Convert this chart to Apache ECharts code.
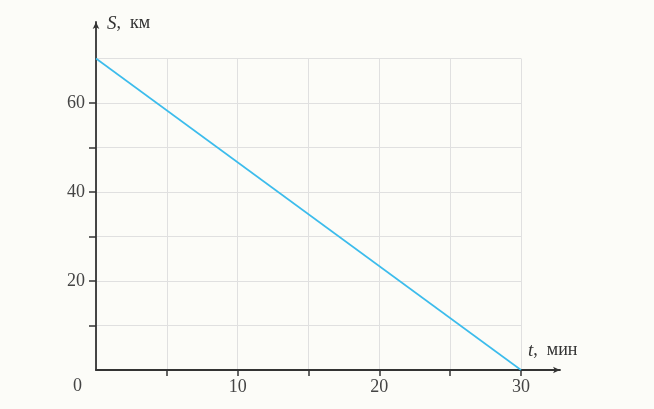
<!DOCTYPE html>
<html><head><meta charset="utf-8">
<script src="https://cdn.jsdelivr.net/npm/echarts@6/dist/echarts.min.js"></script>
<style>html,body{margin:0;padding:0;background:#fcfcf8}#c{width:654px;height:409px}</style>
</head><body><div id="c"></div>
<script>
const timeMin = [0, 30];
const distanceKm = [70, 0];
const xTickLabels = [10, 20, 30];
const yTickLabels = [20, 40, 60];
const xTicks = [5, 10, 15, 20, 25, 30];
const yTicks = [10, 20, 30, 40, 50, 60];

const serif = '"Liberation Serif", "DejaVu Serif", serif';
const chart = echarts.init(document.getElementById('c'));
const hidden = {axisLine: {show: false}, axisTick: {show: false}, axisLabel: {show: false}};
chart.setOption({
  backgroundColor: '#fcfcf8',
  animation: false,
  grid: [
    {left: 96, right: 133, top: 58.5, bottom: 39},
    {left: 96, right: 94, top: 22, bottom: 39}
  ],
  xAxis: [
    {type: 'value', gridIndex: 0, min: 0, max: 30, interval: 5,
     axisLine: {show: false},
     axisTick: {show: true, length: 6, customValues: xTicks, lineStyle: {color: '#333', width: 1.5}},
     splitLine: {show: false},
     axisLabel: {margin: 8, fontFamily: serif, fontSize: 18, color: '#444', customValues: xTickLabels}},
    {type: 'value', gridIndex: 1, min: 0, max: 1,
     axisLine: {show: true, symbol: ['none', 'arrow'], symbolSize: [5, 7], lineStyle: {color: '#333', width: 1.8}},
     axisTick: {show: false}, splitLine: {show: false}, axisLabel: {show: false}},
    Object.assign({type: 'value', gridIndex: 0, min: 0, max: 30, interval: 5,
     splitLine: {show: true, lineStyle: {color: '#e0e0e0', width: 1}}}, hidden)
  ],
  yAxis: [
    {type: 'value', gridIndex: 0, min: 0, max: 70, interval: 10,
     axisLine: {show: false},
     axisTick: {show: true, length: 7, customValues: yTicks, lineStyle: {color: '#333', width: 1.5}},
     splitLine: {show: false},
     axisLabel: {margin: 11, fontFamily: serif, fontSize: 18, color: '#444', customValues: yTickLabels}},
    {type: 'value', gridIndex: 1, min: 0, max: 1,
     axisLine: {show: true, symbol: ['none', 'arrow'], symbolSize: [5, 7], lineStyle: {color: '#333', width: 1.8}},
     axisTick: {show: false}, splitLine: {show: false}, axisLabel: {show: false}},
    Object.assign({type: 'value', gridIndex: 0, min: 0, max: 70, interval: 10,
     splitLine: {show: true, lineStyle: {color: '#e0e0e0', width: 1}}}, hidden)
  ],
  graphic: [
    {type: 'text', left: 107, top: 14, style: {rich: {i: {fontFamily: serif, fontStyle: 'italic', fontSize: 19, fill: '#333'}, n: {fontFamily: serif, fontSize: 18, fill: '#333'}}, text: '{i|S}{n|,  км}'}},
    {type: 'text', left: 528, top: 341, style: {rich: {i: {fontFamily: serif, fontStyle: 'italic', fontSize: 19, fill: '#333'}, n: {fontFamily: serif, fontSize: 18, fill: '#333'}}, text: '{i|t}{n|,  мин}'}},
    {type: 'text', left: 73, top: 377, style: {text: '0', fontFamily: serif, fontSize: 18, fill: '#444'}}
  ],
  series: [{
    type: 'line', xAxisIndex: 0, yAxisIndex: 0,
    data: timeMin.map((t, i) => [t, distanceKm[i]]),
    symbol: 'none', lineStyle: {color: '#3cbcec', width: 1.6}
  }]
});
</script></body></html>
